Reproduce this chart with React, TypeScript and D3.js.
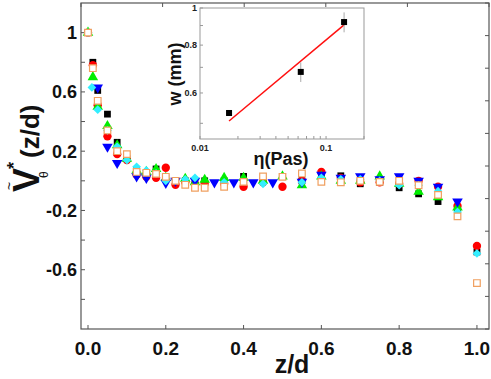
import React from 'react'
import * as d3 from 'd3'

const W = 491
const H = 379
const FONT = "Arial, 'Liberation Sans', sans-serif"

// main panel data: z/d positions and V values per series
const blackZ = [0, 0.0125, 0.025, 0.05, 0.075, 0.1, 0.125, 0.15, 0.175, 0.2, 0.25, 0.3, 0.35, 0.4, 0.45, 0.5, 0.55, 0.6, 0.65, 0.7, 0.75, 0.8, 0.85, 0.9, 0.95, 1.0]
const blackV = [1.0, 0.8, 0.61, 0.45, 0.26, 0.15, 0.07, 0.05, 0.08, 0.02, 0.0, 0.0, 0.0, 0.03, 0.0, 0.03, 0.0, 0.04, 0.034, -0.02, -0.01, -0.047, -0.088, -0.14, -0.19, -0.48]

const redZ = [0, 0.0125, 0.025, 0.05, 0.075, 0.1, 0.125, 0.15, 0.175, 0.2, 0.225, 0.25, 0.275, 0.3, 0.35, 0.4, 0.45, 0.5, 0.55, 0.6, 0.65, 0.7, 0.75, 0.8, 0.85, 0.9, 0.95, 1.0]
const redV = [1.0, 0.78, 0.51, 0.3, 0.18, 0.14, 0.04, 0.027, 0.02, 0.088, -0.027, -0.01, -0.02, -0.02, -0.02, -0.04, -0.01, -0.04, 0.0, 0.06, 0.02, -0.01, -0.01, -0.02, 0.0, -0.04, -0.17, -0.44]

const greenZ = [0, 0.0125, 0.025, 0.05, 0.075, 0.1, 0.125, 0.15, 0.175, 0.2, 0.25, 0.275, 0.3, 0.35, 0.4, 0.45, 0.5, 0.55, 0.6, 0.65, 0.7, 0.75, 0.8, 0.85, 0.9, 0.95]
const greenV = [1.0, 0.7, 0.5, 0.37, 0.24, 0.15, 0.07, 0.06, 0.08, 0.02, 0.014, -0.01, 0.007, 0.02, 0.02, 0.0, 0.03, -0.03, 0.03, 0.0, 0.0, 0.03, -0.02, -0.074, -0.11, -0.18]

const blueZ = [0.025, 0.05, 0.075, 0.125, 0.15, 0.2, 0.225, 0.275, 0.325, 0.375, 0.425, 0.475, 0.55, 0.6, 0.65, 0.7, 0.75, 0.8, 0.85, 0.9, 0.95]
const blueV = [0.63, 0.23, 0.12, 0.03, 0.02, -0.014, 0.0, 0.0, -0.01, -0.01, -0.01, -0.01, -0.007, 0.04, 0.02, 0.03, 0.01, 0.03, 0.0, -0.04, -0.14]

const cyanZ = [0, 0.01, 0.025, 0.05, 0.075, 0.1, 0.125, 0.15, 0.175, 0.2, 0.25, 0.275, 0.35, 0.45, 0.55, 0.6, 0.65, 0.7, 0.75, 0.8, 0.85, 0.9, 0.95, 1.0]
const cyanV = [1.0, 0.63, 0.48, 0.34, 0.23, 0.14, 0.095, 0.07, 0.05, 0.0, 0.01, 0.02, -0.01, -0.02, -0.01, 0.02, 0.01, 0.01, 0.0, -0.03, -0.03, -0.07, -0.21, -0.49]

const orangeZ = [0, 0.0125, 0.025, 0.05, 0.075, 0.1, 0.125, 0.15, 0.175, 0.2, 0.225, 0.25, 0.275, 0.3, 0.35, 0.4, 0.45, 0.5, 0.55, 0.6, 0.65, 0.7, 0.75, 0.8, 0.85, 0.9, 0.95, 1.0]
const orangeV = [1.0, 0.76, 0.54, 0.34, 0.2, 0.18, 0.06, 0.054, 0.047, 0.027, 0.0, -0.027, -0.047, -0.047, -0.04, -0.007, 0.03, 0.027, 0.05, -0.007, -0.01, 0.0, -0.007, 0.0, -0.03, -0.095, -0.24, -0.69]

const xTicks = [0, 0.2, 0.4, 0.6, 0.8, 1.0]
const yTickLabels = [1, 0.6, 0.2, -0.2, -0.6]
const yTicksAll = [1, 0.8, 0.6, 0.4, 0.2, 0, -0.2, -0.4, -0.6, -0.8]

// inset: w vs viscosity
const eta = [0.017, 0.063, 0.139]
const wmm = [0.532, 0.681, 0.919]
const wErr = [0.005, 0.04, 0.055]
const fitA = 1.555
const fitB = 0.275
const fitRange = [0.017, 0.139]
const insetXTicks = [0.01, 0.1]
const insetYTicks = [0.6, 0.8, 1]

const series = [
  { z: blackZ, v: blackV, sym: d3.symbolSquare, size: 46, fill: '#000000', stroke: 'none', rot: 0 },
  { z: redZ, v: redV, sym: d3.symbolCircle, size: 55, fill: '#ff0000', stroke: 'none', rot: 0 },
  { z: greenZ, v: greenV, sym: d3.symbolTriangle, size: 48, fill: '#00ee00', stroke: 'none', rot: 0 },
  { z: blueZ, v: blueV, sym: d3.symbolTriangle, size: 48, fill: '#0000ff', stroke: 'none', rot: 180 },
  { z: cyanZ, v: cyanV, sym: d3.symbolSquare, size: 38, fill: '#33eeff', stroke: 'none', rot: 45 },
  { z: orangeZ, v: orangeV, sym: d3.symbolSquare, size: 44, fill: '#ffffff', stroke: '#f0a060', rot: 0 },
]

export default function App() {
  const left = 81, right = 489, top = 3, bottom = 329
  const x = d3.scaleLinear().domain([-0.018, 1.031]).range([left, right])
  const y = d3.scaleLinear().domain([-1.0, 1.2]).range([bottom, top])
  // mirrored frame ticks as drawn by the original software
  const xTop = d3.scaleLinear().domain([0, 1]).range([left, right])
  const yRight = d3.scaleLinear().domain([-0.8, 1.2]).range([bottom, top])

  const ix = d3.scaleLog().domain([0.01, 0.2]).range([200, 364])
  const iy = d3.scaleLog().domain([0.455, 1.0]).range([139, 8])
  const fitLine = d3.line<number>().x((e) => ix(e)).y((e) => iy(fitA * Math.pow(e, fitB)))

  const ixMinor = [0.02, 0.03, 0.04, 0.05, 0.06, 0.07, 0.08, 0.09, 0.2]
  const iyMinor = [0.5, 0.7, 0.9]

  return (
    <svg width={W} height={H} style={{ position: 'absolute', left: 0, top: 0, background: '#fff' }} fontFamily={FONT}>
      {/* main frame */}
      <rect x={left} y={top} width={right - left} height={bottom - top} fill="none" stroke="#555" strokeWidth={1.2} />
      {yTicksAll.map((t) => (
        <line key={'yl' + t} x1={left} x2={left + 4} y1={y(t)} y2={y(t)} stroke="#555" />
      ))}
      {yRight.ticks(10).map((t) => (
        <line key={'yr' + t} x1={right - 4} x2={right} y1={yRight(t)} y2={yRight(t)} stroke="#555" />
      ))}
      {xTop.ticks(5).map((t) => (
        <line key={'xt' + t} x1={xTop(t)} x2={xTop(t)} y1={top} y2={top + 4} stroke="#555" />
      ))}
      {xTicks.map((t) => (
        <line key={'xb' + t} x1={x(t)} x2={x(t)} y1={bottom} y2={bottom - 4} stroke="#555" />
      ))}
      {yTickLabels.map((t) => (
        <text key={'ytl' + t} x={77} y={y(t) + 6.5} textAnchor="end" fontSize={18} fontWeight="bold" fill="#111">
          {t === 1 ? '1' : t.toFixed(1)}
        </text>
      ))}
      {xTicks.map((t) => (
        <text key={'xtl' + t} x={x(t)} y={355} textAnchor="middle" fontSize={19} fontWeight="bold" fill="#111">
          {t.toFixed(1)}
        </text>
      ))}
      <text x={292} y={373} textAnchor="middle" fontSize={25} fontWeight="bold" fill="#111">z/d</text>

      {/* y label, rotated */}
      <g transform="translate(39,192) rotate(-90)" fill="#111">
        <text x={0} y={0} fontSize={36} fontWeight="bold">V</text>
        <text x={2} y={-25} fontSize={14}>~</text>
        <text x={23} y={-19} fontSize={18} fontWeight="bold">*</text>
        <text x={14} y={9} fontSize={12}>θ</text>
        <text x={34} y={0} fontSize={26} fontWeight="bold">(z/d)</text>
      </g>

      {/* data */}
      {series.map((s, si) => {
        const path = d3.symbol().type(s.sym).size(s.size)()
        return (
          <g key={si}>
            {s.z.map((z, i) => (
              <path
                key={i}
                d={path ?? ''}
                transform={`translate(${x(z)},${y(s.v[i])}) rotate(${s.rot})`}
                fill={s.fill}
                stroke={s.stroke}
                strokeWidth={1.2}
              />
            ))}
          </g>
        )
      })}

      {/* inset */}
      <rect x={200} y={8} width={164} height={131} fill="#fff" stroke="#999" strokeWidth={1} />
      {insetYTicks.concat(iyMinor).map((t) => (
        <line key={'iy' + t} x1={200} x2={203} y1={iy(t)} y2={iy(t)} stroke="#999" />
      ))}
      {insetXTicks.concat(ixMinor).map((t) => (
        <line key={'ix' + t} x1={ix(t)} x2={ix(t)} y1={139} y2={136} stroke="#999" />
      ))}
      {insetYTicks.map((t) => (
        <text key={'iyl' + t} x={197} y={iy(t) + 3} textAnchor="end" fontSize={9} fontWeight="bold" fill="#222">
          {String(t)}
        </text>
      ))}
      {insetXTicks.map((t) => (
        <text key={'ixl' + t} x={ix(t)} y={151} textAnchor="middle" fontSize={9} fontWeight="bold" fill="#222">
          {String(t)}
        </text>
      ))}
      <text transform="translate(181,74) rotate(-90)" textAnchor="middle" fontSize={18} fontWeight="bold" fill="#111">w (mm)</text>
      <text x={281} y={165} textAnchor="middle" fontSize={18} fontWeight="bold" fill="#111">η(Pas)</text>
      <path d={fitLine(fitRange) ?? ''} fill="none" stroke="#ff1010" strokeWidth={1.5} />
      {eta.map((e, i) => (
        <g key={'ie' + i}>
          <line x1={ix(e)} x2={ix(e)} y1={iy(wmm[i] - wErr[i])} y2={iy(wmm[i] + wErr[i])} stroke="#aaa" strokeWidth={1} />
          <rect x={ix(e) - 3} y={iy(wmm[i]) - 3} width={6} height={6} fill="#000" />
        </g>
      ))}
    </svg>
  )
}
